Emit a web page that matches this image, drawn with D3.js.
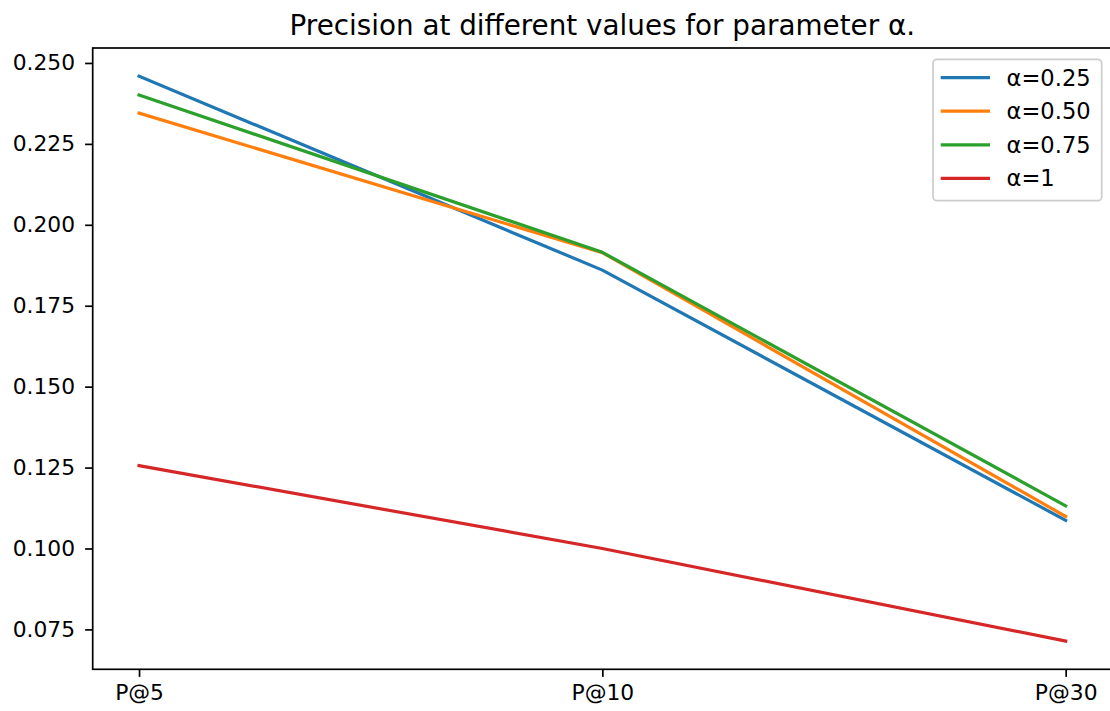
<!DOCTYPE html>
<html>
<head>
<meta charset="utf-8">
<script src="https://cdn.jsdelivr.net/npm/d3@7/dist/d3.min.js"></script>
<style>
  html, body { margin: 0; padding: 0; background: #fff; }
  svg { display: block; font-family: "DejaVu Sans", sans-serif; }
</style>
</head>
<body>
<svg id="chart" width="1110" height="711"></svg>
<script>
// Precision@k for each alpha setting
const categories = ["P@5", "P@10", "P@30"];
const alphaLabels = ["α=0.25", "α=0.50", "α=0.75", "α=1"];
const alpha025 = [0.2459, 0.1860, 0.1087];
const alpha050 = [0.2345, 0.1914, 0.1099];
const alpha075 = [0.2401, 0.1915, 0.1132];
const alpha100 = [0.1256, 0.1000, 0.0714];
const yTicks = [0.075, 0.100, 0.125, 0.150, 0.175, 0.200, 0.225, 0.250];
const colors = ["#1f77b4", "#ff7f0e", "#2ca02c", "#d62728"];

const series = [alpha025, alpha050, alpha075, alpha100].map((values, i) => ({
  label: alphaLabels[i], color: colors[i], values
}));

const svg = d3.select("#chart");
const plot = { left: 92.7, right: 1112, top: 48, bottom: 669.3 };

// index-based x with 5% padding on each side
const n = categories.length;
const pad = (n - 1) * 0.05;
const x = d3.scaleLinear().domain([-pad, n - 1 + pad]).range([plot.left, plot.right]);

const allVals = series.flatMap(s => s.values);
const yMin = d3.min(allVals), yMax = d3.max(allVals);
const yPad = (yMax - yMin) * 0.05;
const y = d3.scaleLinear().domain([yMin - yPad, yMax + yPad]).range([plot.bottom, plot.top]);

const fontSize = 21.8;
const tickLen = 7.6;

// lines
const line = d3.line().x((d, i) => x(i)).y(d => y(d));
svg.append("g").selectAll("path").data(series).join("path")
  .attr("d", d => line(d.values))
  .attr("fill", "none")
  .attr("stroke", d => d.color)
  .attr("stroke-width", 3.2)
  .attr("stroke-linejoin", "round")
  .attr("stroke-linecap", "square");

// y axis
const yAxis = d3.axisLeft(y).tickValues(yTicks).tickFormat(d3.format(".3f"))
  .tickSize(tickLen).tickPadding(10);
const gy = svg.append("g").attr("transform", `translate(${plot.left},0)`).call(yAxis);
gy.select(".domain").remove();
gy.selectAll(".tick line").attr("stroke", "#000").attr("stroke-width", 1.7);
gy.selectAll(".tick text").attr("font-size", fontSize).attr("fill", "#000")
  .attr("font-family", "DejaVu Sans");

// x axis
const xAxis = d3.axisBottom(x).tickValues(d3.range(n)).tickFormat(i => categories[i])
  .tickSize(tickLen).tickPadding(7.6);
const gx = svg.append("g").attr("transform", `translate(0,${plot.bottom})`).call(xAxis);
gx.select(".domain").remove();
gx.selectAll(".tick line").attr("stroke", "#000").attr("stroke-width", 1.7);
gx.selectAll(".tick text").attr("font-size", fontSize).attr("fill", "#000")
  .attr("font-family", "DejaVu Sans");

// spines
svg.append("rect")
  .attr("x", plot.left).attr("y", plot.top)
  .attr("width", plot.right - plot.left).attr("height", plot.bottom - plot.top)
  .attr("fill", "none").attr("stroke", "#000").attr("stroke-width", 1.7);

// title
svg.append("text")
  .attr("x", (plot.left + plot.right) / 2).attr("y", 35)
  .attr("text-anchor", "middle")
  .attr("font-size", 27.8)
  .attr("fill", "#000")
  .text("Precision at different values for parameter α.");

// legend
const legend = svg.append("g");
legend.append("rect")
  .attr("x", 933).attr("y", 59.3).attr("width", 168.7).attr("height", 141.4)
  .attr("rx", 4).attr("ry", 4)
  .attr("fill", "#fff").attr("fill-opacity", 0.8)
  .attr("stroke", "#cccccc").attr("stroke-width", 1.7);
const rowY = [77.7, 111.2, 144.8, 178.3];
const items = legend.selectAll("g.item").data(series).join("g").attr("class", "item")
  .attr("transform", (d, i) => `translate(0,${rowY[i]})`);
items.append("line")
  .attr("x1", 940.7).attr("x2", 990).attr("y1", 0).attr("y2", 0)
  .attr("stroke", d => d.color).attr("stroke-width", 3.2);
items.append("text")
  .attr("x", 1006.5).attr("y", 0).attr("dy", "0.36em")
  .attr("font-size", 22.6).attr("fill", "#000")
  .text(d => d.label);
</script>
</body>
</html>
